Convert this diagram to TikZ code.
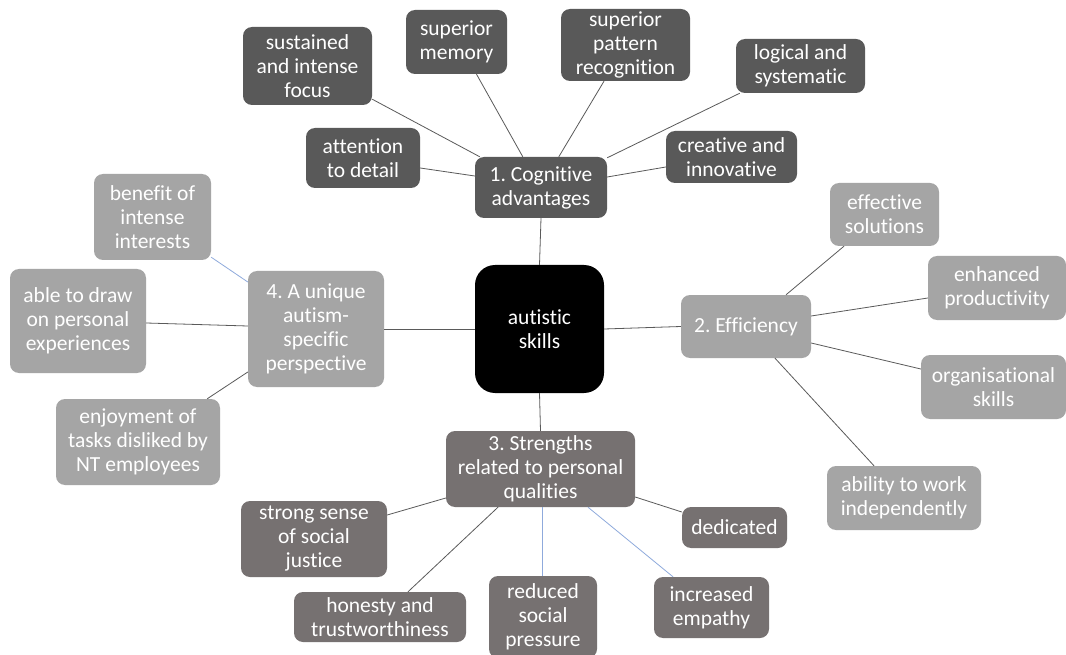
\documentclass[tikz,border=0pt]{standalone}
\usepackage{fontspec}
\setmainfont{Carlito}[Ligatures={NoCommon}]
\frenchspacing
\definecolor{cogc}{HTML}{595959}
\definecolor{lightc}{HTML}{A5A5A5}
\definecolor{strc}{HTML}{767171}
\definecolor{linec}{HTML}{5A5A5A}
\definecolor{bluec}{HTML}{8FAADC}
\tikzset{
  box/.style={rounded corners=9pt, inner sep=0pt, text=white, align=center,
    font=\fontsize{21.5}{24}\selectfont\frenchspacing},
  cogbox/.style={box, fill=cogc},
  lightbox/.style={box, fill=lightc},
  strbox/.style={box, fill=strc},
  rootbox/.style={box, fill=black, rounded corners=20pt},
  link/.style={draw=linec, line width=0.8pt},
  bluelink/.style={draw=bluec, line width=0.8pt},
}
\newcommand{\bx}[7]{% style, name, x1, x2, y1, y2, text
  \node[#1, minimum width={(#4)-(#3)}, minimum height={(#6)-(#5)}] (#2) at ({((#3)+(#4))/2},{((#5)+(#6))/2}) {#7};}
\begin{document}
\begin{tikzpicture}[x=1pt,y=-1pt]
\useasboundingbox (0,0) rectangle (1066,655);
\fill[white] (0,0) rectangle (1066,655);
% root
\bx{rootbox}{root}{475}{604}{265}{393}{autistic\\skills}
% cognitive
\bx{cogbox}{cog}{475}{607}{157}{218}{1. Cognitive\\advantages}
\bx{cogbox}{att}{306}{420}{128}{188}{attention\\to detail}
\bx{cogbox}{sus}{243}{372}{27}{105}{sustained\\and intense\\focus}
\bx{cogbox}{mem}{406}{507}{10}{74}{superior\\memory}
\bx{cogbox}{pat}{561}{690}{9}{81}{superior\\pattern\\recognition}
\bx{cogbox}{log}{736}{865}{39}{93}{logical and\\systematic}
\bx{cogbox}{cre}{666}{797}{131}{183}{creative and\\innovative}
% efficiency
\bx{lightbox}{eff}{681}{811}{295}{358}{2. Efficiency}
\bx{lightbox}{sol}{830}{939}{183}{246}{effective\\solutions}
\bx{lightbox}{enh}{928}{1066}{256}{320}{enhanced\\productivity}
\bx{lightbox}{org}{921}{1066}{355}{419}{organisational\\skills}
\bx{lightbox}{abl}{827}{981}{466}{530}{ability to work\\independently}
% strengths
\bx{strbox}{str}{446}{635}{431}{507}{3. Strengths\\related to personal\\qualities}
\bx{strbox}{soc}{241}{387}{501}{577}{strong sense\\of social\\justice}
\bx{strbox}{hon}{294}{466}{592}{642}{honesty and\\trustworthiness}
\bx{strbox}{red}{489}{597}{576}{658}{reduced\\social\\pressure}
\bx{strbox}{inc}{654}{769}{577}{638}{increased\\empathy}
\bx{strbox}{ded}{682}{787}{507}{548}{dedicated}
% perspective
\bx{lightbox}{per}{248}{384}{271}{387}{4. A unique\\autism-\\specific\\perspective}
\bx{lightbox}{ben}{94}{211}{174}{260}{benefit of\\intense\\interests}
\bx{lightbox}{drw}{10}{146}{269}{373}{able to draw\\on personal\\experiences}
\bx{lightbox}{enj}{56}{220}{399}{485}{enjoyment of\\tasks disliked by\\NT employees}
% connectors from root
\draw[link] (root.north) -- (cog.south);
\draw[link] (root.east) -- (eff.west);
\draw[link] (root.south) -- (str.north);
\draw[link] (root.west) -- (per.east);
% cognitive
\draw[link] ([xshift=5pt]cog.north west) -- ([yshift=6pt]sus.south east);
\draw[link] ([xshift=48pt]cog.north west) -- ([xshift=20pt]mem.south);
\draw[link] ([xshift=84pt]cog.north west) -- ([xshift=-21.5pt]pat.south);
\draw[link] ([yshift=-1pt]cog.north east) -- ([xshift=4pt]log.south west);
\draw[link] ([yshift=11.5pt]cog.west) -- ([yshift=-10pt]att.east);
\draw[link] ([yshift=10.5pt]cog.east) -- ([yshift=-10pt]cre.west);
% efficiency
\draw[link] ([xshift=40pt]eff.north) -- ([xshift=-40.5pt]sol.south);
\draw[link] ([yshift=10.5pt]eff.east) -- ([yshift=-10pt]enh.west);
\draw[link] ([yshift=-16.5pt]eff.east) -- ([yshift=18pt]org.west);
\draw[link] ([xshift=29pt]eff.south) -- ([xshift=-30pt]abl.north);
% perspective
\draw[bluelink] ([yshift=47pt]per.west) -- ([yshift=3pt]ben.south east);
\draw[link] ([yshift=3pt]per.west) -- ([yshift=-2pt]drw.east);
\draw[link] ([yshift=-43pt]per.west) -- ([xshift=-13pt]enj.north east);
% strengths
\draw[link] ([yshift=-29pt]str.west) -- ([yshift=24pt]soc.east);
\draw[link] ([xshift=-42.5pt]str.south) -- ([xshift=28pt]hon.north);
\draw[bluelink] ([xshift=1.5pt]str.south) -- ([xshift=-1pt]red.north);
\draw[bluelink] ([xshift=47.5pt]str.south) -- ([xshift=-38.5pt]inc.north);
\draw[link] ([yshift=-28pt]str.east) -- ([yshift=15.5pt]ded.west);
\end{tikzpicture}
\end{document}
